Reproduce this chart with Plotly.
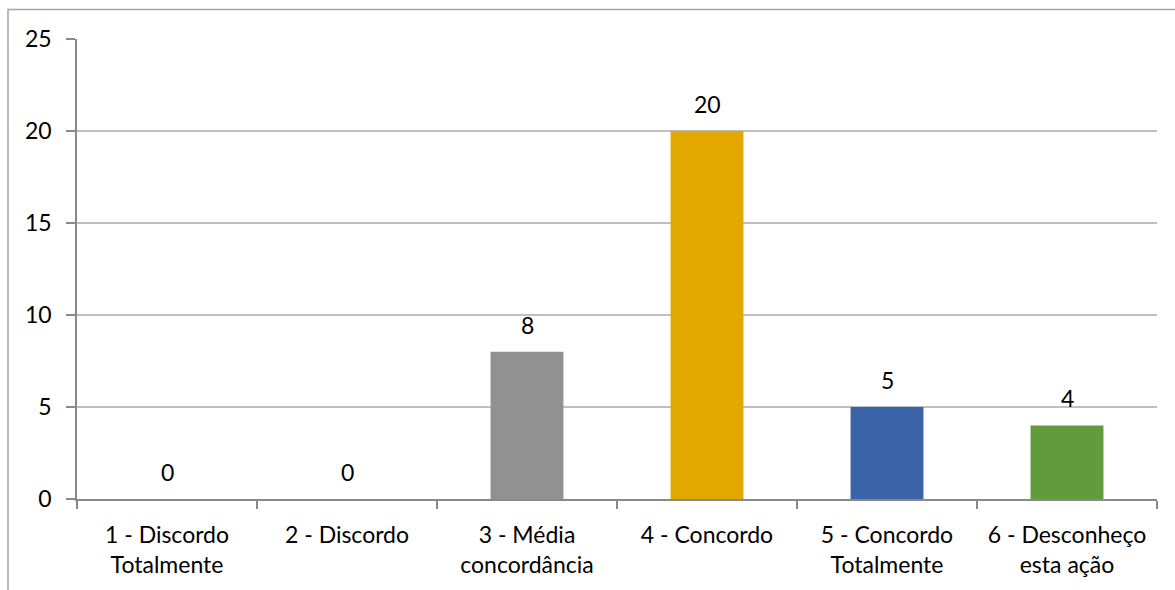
import plotly.graph_objects as go

# Survey response counts per agreement level
categories = [
    "1 - Discordo<br>Totalmente",
    "2 - Discordo",
    "3 - Média<br>concordância",
    "4 - Concordo",
    "5 - Concordo<br>Totalmente",
    "6 - Desconheço<br>esta ação",
]
counts = [0, 0, 8, 20, 5, 4]
bar_colors = ["#4472C4", "#ED7D31", "#919191", "#E2A800", "#3B63AA", "#629A3E"]
y_ticks = [0, 5, 10, 15, 20, 25]

W, H = 1175, 590
L, R, T, B = 77, 18, 39, 91
plot_w = W - L - R
plot_h = H - T - B

font_family = "Lato, 'Open Sans', sans-serif"
FS = 23

fig = go.Figure(
    go.Bar(
        x=categories,
        y=counts,
        marker=dict(color=bar_colors, line=dict(width=0)),
        width=0.405,
        hoverinfo="x+y",
    )
)

# Value labels floating above each bar
for cat, val in zip(categories, counts):
    fig.add_annotation(
        x=cat, y=val, text=str(val),
        showarrow=False, yanchor="middle", yshift=27,
        font=dict(size=FS, family=font_family, color="#000000"),
    )

# Outer chart frame (extends past the right and bottom edges)
fig.add_shape(
    type="rect",
    xref="paper", yref="paper",
    x0=(8 - L) / plot_w, x1=(W + 10 - L) / plot_w,
    y0=-(H + 10 - (T + plot_h)) / plot_h, y1=(T + plot_h - 9.5) / plot_h,
    line=dict(color="#A6A6A6", width=1.5),
    fillcolor="rgba(0,0,0,0)",
    layer="below",
)

fig.update_layout(
    width=W,
    height=H,
    margin=dict(l=L, r=R, t=T, b=B),
    paper_bgcolor="white",
    plot_bgcolor="white",
    showlegend=False,
    bargap=0.595,
    font=dict(family=font_family, size=FS, color="#000000"),
    xaxis=dict(
        showgrid=False,
        showline=True,
        linecolor="#898989",
        linewidth=1.5,
        ticks="outside",
        ticklen=8,
        tickcolor="#898989",
        tickwidth=1.5,
        tickson="boundaries",
        ticklabelstandoff=15,
        tickfont=dict(size=FS, family=font_family, color="#000000"),
    ),
    yaxis=dict(
        range=[0, 25],
        tickvals=y_ticks,
        showgrid=True,
        gridcolor="#BFBFBF",
        gridwidth=1.5,
        showline=True,
        linecolor="#898989",
        linewidth=1.5,
        ticks="outside",
        ticklen=9,
        tickcolor="#898989",
        tickwidth=1.5,
        ticklabelstandoff=10,
        zeroline=False,
        tickfont=dict(size=FS, family=font_family, color="#000000"),
    ),
)

fig.write_html("out.html")
